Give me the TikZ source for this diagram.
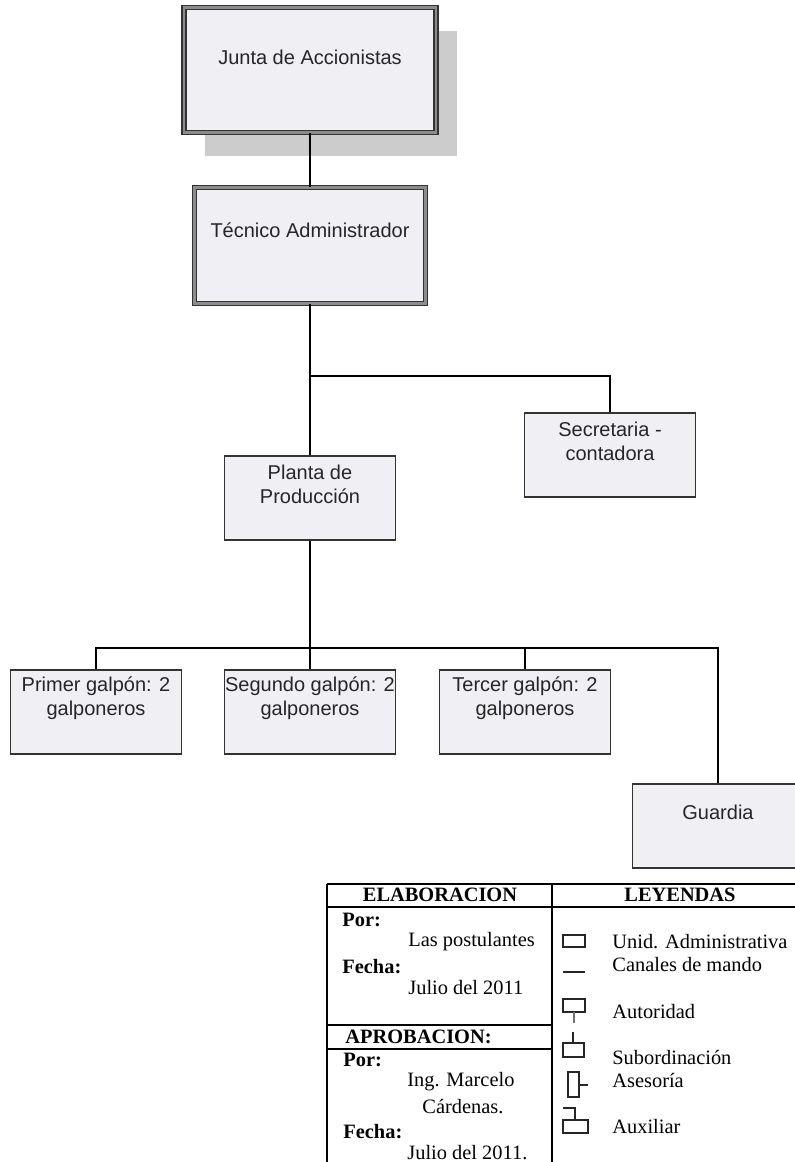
\documentclass[tikz,border=0pt]{standalone}
\usepackage{fontspec}
\setmainfont{Liberation Serif}
\setsansfont{Liberation Sans}
\usetikzlibrary{shadows}
\definecolor{unitFill}{RGB}{240,239,244}
\tikzstyle{unitBox}=[shape = rectangle, draw = black!80, line width = 0.8pt, fill = unitFill, inner sep = 0pt, minimum width = 85.5pt, minimum height = 42pt]
\tikzstyle{headBox}=[shape = rectangle, draw = black!80, line width = 0.6pt, double = black!45, double distance = 1.4pt, fill = unitFill, inner sep = 0pt]
\tikzstyle{unitText}=[font = \sffamily\fontsize{10}{12}\selectfont, text = black!85, align = center, inner sep = 0pt]

\begin{document}
\begin{tikzpicture}[x = 0.5pt, y = -0.5pt]
\tikzstyle{link}=[line width = 0.8pt, draw = black]
\tikzstyle{rule}=[line width = 0.9pt, draw = black]
\tikzstyle{sym}=[line width = 0.75pt, draw = black!85]
\tikzstyle{cellText}=[font = \fontsize{10.2}{11.5}\selectfont, anchor = west, inner sep = 0pt]
\tikzstyle{cellBold}=[cellText, font = \bfseries\fontsize{10.2}{11.5}\selectfont]
\tikzstyle{cellHead}=[font = \bfseries\fontsize{10.2}{11.5}\selectfont, inner sep = 0pt]
\useasboundingbox (0,0) rectangle (795,1162);
\clip (0,0) rectangle (795,1162);
\node[headBox, minimum width = 126pt, minimum height = 62.5pt,
drop shadow = {shadow xshift = 10.5pt, shadow yshift = -11.5pt, fill = gray!40, opacity = 1}] (jun) at (310,70) {};
\node[headBox, minimum width = 115.7pt, minimum height = 58pt] (tec) at (310,245.5) {};
\node[unitBox] (pla) at (310,498) {};
\node[unitBox] (sec) at (610,455) {};
\node[unitBox] (pri) at (96,712) {};
\node[unitBox] (seg) at (310,712) {};
\node[unitBox] (ter) at (525,712) {};
\node[unitBox] (gua) at (718,826) {};
\node[unitText] (junT) at ([yshift = -25pt]jun.north) {Junta de Accionistas};
\node[unitText] (tecT) at ([yshift = -21.7pt]tec.north) {Técnico Administrador};
\node[unitText] (plaT) at ([yshift = -14.5pt]pla.north) {Planta de\\Producción};
\node[unitText] (secT) at ([yshift = -14.5pt]sec.north) {Secretaria -\\contadora};
\node[unitText] (priT) at ([yshift = -14.5pt]pri.north) {Primer galpón: 2\\galponeros};
\node[unitText] (segT) at ([yshift = -14.5pt]seg.north) {Segundo galpón: 2\\galponeros};
\node[unitText] (terT) at ([yshift = -14.5pt]ter.north) {Tercer galpón: 2\\galponeros};
\node[unitText] (guaT) at ([yshift = -14.5pt]gua.north) {Guardia};
\coordinate (secBus) at (310,376);
\coordinate (galBus) at (310,648);
\draw[link] (jun) -- (tec);
\draw[link] (tec) -- (pla);
\draw[link] (secBus) -| (sec);
\draw[link] (pla) -- (seg);
\foreach \g in {pri, ter, gua}
\draw[link] (galBus) -| (\g);
\draw[rule] (327,884) -- (810,884);
\draw[rule] (327,907) -- (810,907);
\draw[rule] (327,1025) -- (552,1025);
\draw[rule] (327,1049) -- (552,1049);
\draw[rule] (327,884) -- (327,1170);
\draw[rule] (552,884) -- (552,1170);
\node[cellHead] (elab) at (440,895) {ELABORACION};
\node[cellHead] (leye) at (680,895) {LEYENDAS};
\node[cellBold] (por1) at (342,920) {Por:};
\node[cellText] (quien1) at (408,942) {Las postulantes};
\node[cellBold] (fecha1) at (342,967) {Fecha:};
\node[cellText] (cuando1) at (408,988) {Julio del 2011};
\node[cellBold] (aprob) at (345,1037) {APROBACION:};
\node[cellBold] (por2) at (343,1060) {Por:};
\node[cellText] (quien2) at (407,1082) {Ing. Marcelo};
\node[cellText] (quien2b) at (422,1107) {Cárdenas.};
\node[cellBold] (fecha2) at (343,1132) {Fecha:};
\node[cellText] (cuando2) at (407,1153) {Julio del 2011.};
\node[cellText] (leyUnid) at (612,942) {Unid. Administrativa};
\node[cellText] (leyCan) at (612,965) {Canales de mando};
\node[cellText] (leyAut) at (612,1012) {Autoridad};
\node[cellText] (leySub) at (612,1057) {Subordinación};
\node[cellText] (leyAse) at (612,1080) {Asesoría};
\node[cellText] (leyAux) at (612,1127) {Auxiliar};
\draw[sym] (563,935) rectangle (585,947);
\draw[sym] (563,972) -- (585,972);
\draw[sym] (563,999) rectangle (585,1012);
\draw[sym, draw = black!55, line width = 1.1pt] (574,1012) -- (574,1023);
\draw[sym] (573,1032) -- (573,1043);
\draw[sym] (563,1043) rectangle (584,1057);
\draw[sym] (568,1072) rectangle (579,1097);
\draw[sym] (579,1085) -- (588,1085);
\draw[sym] (563,1108) -- (575,1108) -- (575,1120);
\draw[sym] (563,1120) rectangle (588,1133);
\end{tikzpicture}
\end{document}
